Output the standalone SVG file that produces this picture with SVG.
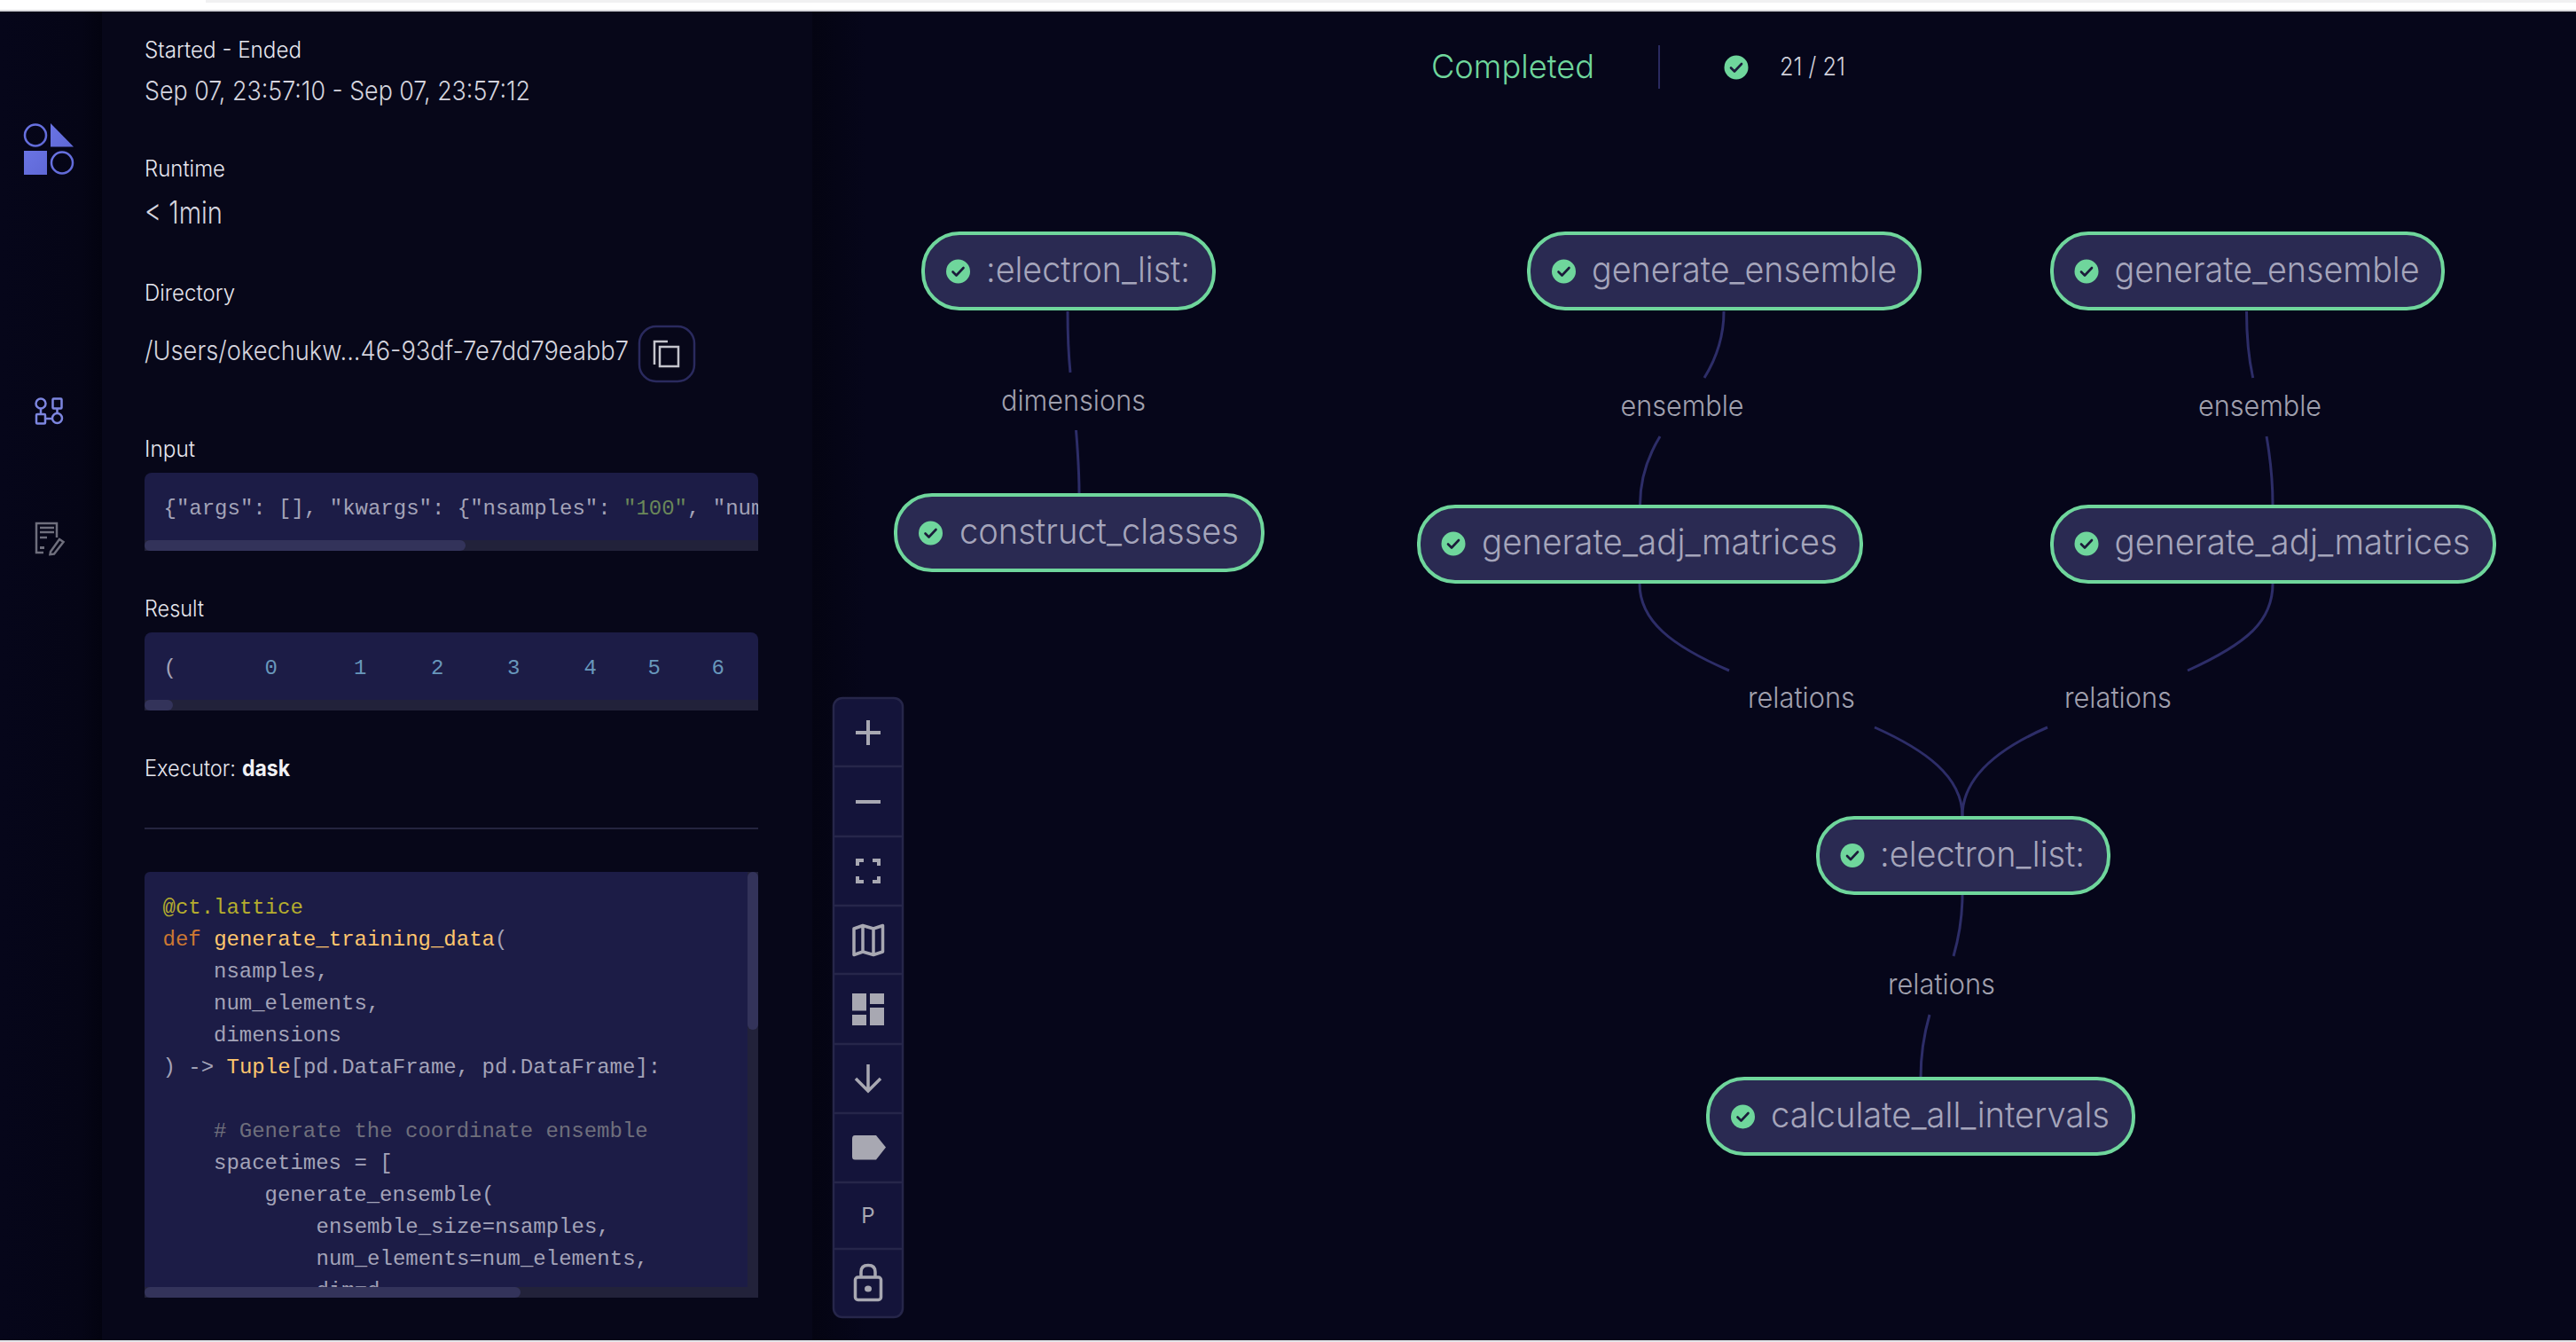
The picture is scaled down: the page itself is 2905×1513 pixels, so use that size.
<svg xmlns="http://www.w3.org/2000/svg" width="2905" height="1513" viewBox="0 0 2905 1513">
<defs>
<style>
.ui{font-family:"Inter","Liberation Sans",sans-serif}
.lbl{font-size:25px;fill:#e6e6ee;font-weight:300}
.val{font-size:30px;fill:#d4d4de;font-weight:300}
.mono{font-family:"Liberation Mono",monospace;font-size:24px;fill:#a3a3b8}
.node{fill:#2a2a52;stroke:#6fd69c;stroke-width:4}
.ntxt{font-size:40px;fill:#a5a5bb;font-weight:300}
.elbl{font-size:33px;fill:#a0a0ae;font-weight:300}
.edge{fill:none;stroke:#2d2d68;stroke-width:3}
.tool{fill:#a8a8b2}
.tools{fill:none;stroke:#a8a8b2}
.sep{stroke:#26264a;stroke-width:2.5}
</style>
<g id="chk"><circle r="13.5" fill="#6fd69c"/><path d="M-6 0.5L-2 4.5L6 -4" fill="none" stroke="#1b1b3a" stroke-width="2.6" stroke-linecap="round" stroke-linejoin="round"/></g>
<clipPath id="cInput"><rect x="163" y="533" width="692" height="76"/></clipPath>
<clipPath id="cCode"><rect x="163" y="983" width="680" height="468"/></clipPath>
<linearGradient id="shade" x1="0" x2="1"><stop offset="0" stop-color="#06061a"/><stop offset="0.8" stop-color="#050516"/><stop offset="1" stop-color="#030310"/></linearGradient>
<linearGradient id="shade2" x1="0" x2="1"><stop offset="0" stop-color="#040412"/><stop offset="1" stop-color="#06061a"/></linearGradient>
<linearGradient id="logoG" x1="0" x2="1" y1="0" y2="1"><stop offset="0" stop-color="#6a74e4"/><stop offset="1" stop-color="#5f68d6"/></linearGradient>
</defs>
<rect width="2905" height="1513" fill="#06061a"/>
<rect x="0" y="12" width="115" height="1499" fill="url(#shade)"/>
<rect x="115" y="12" width="801" height="1499" fill="#070719"/>
<rect x="916" y="12" width="60" height="1499" fill="url(#shade2)"/>
<rect x="0" y="0" width="2905" height="11" fill="#ffffff"/>
<rect x="232" y="0" width="2673" height="3" fill="#f1f1f2"/>
<rect x="0" y="11" width="2905" height="2" fill="#d8d8dc"/>
<rect x="0" y="1511" width="2905" height="2" fill="#e4e4e8"/>

<g id="sidebar">
<circle cx="40" cy="152.500" r="12" fill="none" stroke="url(#logoG)" stroke-width="2.500"/>
<path d="M57 139L83 165.500H57Z" fill="url(#logoG)"/>
<rect x="27" y="170" width="26" height="27" fill="url(#logoG)"/>
<circle cx="70" cy="183.500" r="12" fill="none" stroke="url(#logoG)" stroke-width="2.500"/>
<g fill="none" stroke="#7d86e0" stroke-width="2.500">
<circle cx="46" cy="455" r="5.500"/><rect x="59.500" y="449.500" width="10" height="11" rx="1"/>
<rect x="41" y="467" width="10" height="10.500" rx="1"/><circle cx="64.500" cy="471.500" r="5.500"/>
<path d="M46 460.500V467M64.500 460.500V466M51 472H59"/>
</g>
<g fill="none" stroke="#6e6e7c" stroke-width="2.500">
<path d="M64 606V590H41V623H49"/><path d="M45 595H61M45 600H61M45 606H53"/>
<path d="M57 622L67 608L71.500 611L61 624.500L56.500 625Z"/>
</g>
<rect x="45" y="616" width="5" height="3" fill="#6e6e7c"/>
</g>

<g id="details">
<text class="ui lbl" x="163" y="65" textLength="177" lengthAdjust="spacingAndGlyphs">Started - Ended</text>
<text class="ui val" x="163" y="113" textLength="435" lengthAdjust="spacingAndGlyphs">Sep 07, 23:57:10 - Sep 07, 23:57:12</text>
<text class="ui lbl" x="163" y="199" textLength="91" lengthAdjust="spacingAndGlyphs">Runtime</text>
<text class="ui val" x="163" y="252" style="font-size:35px" textLength="88" lengthAdjust="spacingAndGlyphs">&lt; 1min</text>
<text class="ui lbl" x="163" y="339" textLength="102" lengthAdjust="spacingAndGlyphs">Directory</text>
<text class="ui val" x="163" y="406" textLength="546" lengthAdjust="spacingAndGlyphs">/Users/okechukw...46-93df-7e7dd79eabb7</text>
<g id="copy-button">
<rect x="721" y="368" width="62" height="62" rx="19" fill="none" stroke="#2a2a5e" stroke-width="2.500"/>
<path d="M743 412V386H758" fill="none" stroke="#c4c4cc" stroke-width="2.500" transform="translate(-5 -1)"/>
<rect x="744" y="391" width="21" height="22" fill="none" stroke="#c4c4cc" stroke-width="2.500"/>
</g>
<text class="ui lbl" x="163" y="515" textLength="57" lengthAdjust="spacingAndGlyphs">Input</text>
<rect x="163" y="533" width="692" height="88" rx="8" fill="#1c1c46"/>
<g clip-path="url(#cInput)"><text class="mono" x="184.500" y="579.500" xml:space="preserve">{"args": [], "kwargs": {"nsamples": <tspan style="fill:#6a8759">"100"</tspan>, "num</text></g>
<rect x="163" y="609" width="692" height="12" fill="#22223a"/>
<rect x="163" y="609" width="362" height="12" rx="6" fill="#33335a"/>
<text class="ui lbl" x="163" y="695" textLength="67" lengthAdjust="spacingAndGlyphs">Result</text>
<rect x="163" y="713" width="692" height="88" rx="8" fill="#1c1c46"/>
<text class="mono" y="759.500">
<tspan x="184.500">(</tspan>
<tspan x="298.500" style="fill:#6897bb">0</tspan><tspan x="399" style="fill:#6897bb">1</tspan><tspan x="486" style="fill:#6897bb">2</tspan><tspan x="572" style="fill:#6897bb">3</tspan><tspan x="658.500" style="fill:#6897bb">4</tspan><tspan x="730.500" style="fill:#6897bb">5</tspan><tspan x="802.500" style="fill:#6897bb">6</tspan>
</text>
<rect x="163" y="789" width="692" height="12" fill="#22223a"/>
<rect x="163" y="789" width="32" height="12" rx="6" fill="#33335a"/>
<text class="ui lbl" x="163" y="875" textLength="103" lengthAdjust="spacingAndGlyphs">Executor:</text>
<text class="ui lbl" x="273" y="875" font-weight="700" style="font-weight:700;fill:#f0f0f4" textLength="54" lengthAdjust="spacingAndGlyphs">dask</text>
<rect x="163" y="933" width="692" height="2" fill="#24243f"/>
<rect x="163" y="983" width="692" height="480" rx="6" fill="#1c1c46"/>
<g clip-path="url(#cCode)">
<text class="mono" x="183.500" y="1029.500" style="fill:#b5ad2e">@ct.lattice</text>
<text class="mono" x="183.500" y="1065.500" xml:space="preserve"><tspan style="fill:#cc7832">def</tspan> <tspan style="fill:#ffc66d">generate_training_data</tspan>(</text>
<text class="mono" x="241" y="1101.500">nsamples,</text>
<text class="mono" x="241" y="1137.500">num_elements,</text>
<text class="mono" x="241" y="1173.500">dimensions</text>
<text class="mono" x="183.500" y="1209.500" xml:space="preserve">) -&gt; <tspan style="fill:#ffc66d">Tuple</tspan>[pd.DataFrame, pd.DataFrame]:</text>
<text class="mono" x="241" y="1281.500" style="fill:#6f6f7c"># Generate the coordinate ensemble</text>
<text class="mono" x="241" y="1317.500">spacetimes = [</text>
<text class="mono" x="298.500" y="1353.500">generate_ensemble(</text>
<text class="mono" x="356.500" y="1389.500">ensemble_size=nsamples,</text>
<text class="mono" x="356.500" y="1425.500">num_elements=num_elements,</text>
<text class="mono" x="356.500" y="1461.500">dim=d</text>
</g>
<rect x="843" y="983" width="12" height="480" fill="#22223a"/>
<rect x="843" y="983" width="12" height="178" rx="6" fill="#33335a"/>
<rect x="163" y="1451" width="692" height="12" fill="#22223a"/>
<rect x="163" y="1451" width="424" height="12" rx="6" fill="#33335a"/>
</g>

<g id="toolbar">
<rect x="940" y="787" width="78" height="698" rx="10" fill="#14143a" stroke="#26264a" stroke-width="2.500"/>
<path class="sep" d="M940 864H1018M940 943H1018M940 1021H1018M940 1098H1018M940 1177H1018M940 1255H1018M940 1333H1018M940 1408H1018"/>
<path class="tools" stroke-width="4" d="M965 826H993M979 812V840"/>
<path class="tools" stroke-width="4" d="M965 904H993"/>
<path class="tools" stroke-width="4" d="M974 970H967V976M984 970H991V976M974 994H967V988M984 994H991V988"/>
<path class="tools" stroke-width="3.500" stroke-linejoin="round" d="M963 1047L973 1043.500L985 1047L995.500 1043.500V1073L985 1076.500L973 1073L963 1076.500ZM973 1043.500V1073M985 1047V1076.500"/>
<path class="tool" d="M961 1120H977V1139.500H961ZM961 1144H977V1156H961ZM981 1120H997V1132H981ZM981 1136H997V1156H981Z"/>
<path class="tools" stroke-width="3.500" d="M979 1200V1229M965 1216L979 1230L993 1216"/>
<path class="tool" d="M964 1280H988L999 1293.500L988 1307.500H964Q961 1307.500 961 1304V1284Q961 1280 964 1280Z"/>
<text class="ui" x="979" y="1379" text-anchor="middle" style="font-size:24px;fill:#a8a8b2">P</text>
<rect x="964.500" y="1440" width="29" height="25.500" rx="3" class="tools" stroke-width="3.500"/>
<path class="tools" stroke-width="3.500" d="M971 1440V1434Q971 1426.500 979 1426.500Q987 1426.500 987 1434V1440"/>
<ellipse cx="979" cy="1453" rx="4" ry="3.500" class="tool"/>
</g>

<g id="status">
<text class="ui" x="1614" y="88" style="font-size:37px;fill:#6fd69c;font-weight:300" textLength="184" lengthAdjust="spacingAndGlyphs">Completed</text>
<rect x="1870" y="51" width="2" height="49" fill="#2a2a60"/>
<use href="#chk" x="1958" y="76"/>
<text class="ui" x="2007" y="85" style="font-size:29px;fill:#d0d0da;font-weight:300" textLength="74" lengthAdjust="spacingAndGlyphs">21 / 21</text>
</g>

<g id="connectors">
<path class="edge" d="M1204 351C1204 380 1205 400 1207 420"/>
<path class="edge" d="M1213.500 485C1215.500 510 1217 530 1217 556"/>
<path class="edge" d="M1944 351C1944 380 1935 405 1922 426"/>
<path class="edge" d="M1872 492C1858 515 1849.500 540 1849.500 569"/>
<path class="edge" d="M2533.500 351C2533.500 380 2536 405 2540.700 426"/>
<path class="edge" d="M2556 492C2560 515 2563 540 2563 569"/>
<path class="edge" d="M1849 658C1849 700 1885 728 1950 756"/>
<path class="edge" d="M2114 820C2170 845 2213 875 2213 920"/>
<path class="edge" d="M2563 658C2563 700 2535 725 2467 756"/>
<path class="edge" d="M2309 820C2256 843 2213 875 2213 920"/>
<path class="edge" d="M2213 1009C2213 1035 2209 1057 2203 1078"/>
<path class="edge" d="M2176 1144C2170 1165 2166 1190 2166 1215"/>
</g>

<g id="edge-labels">
<text class="ui elbl" x="1129" y="462.500" textLength="163" lengthAdjust="spacingAndGlyphs">dimensions</text>
<text class="ui elbl" x="1827.500" y="468.500" textLength="139" lengthAdjust="spacingAndGlyphs">ensemble</text>
<text class="ui elbl" x="2479" y="468.500" textLength="139" lengthAdjust="spacingAndGlyphs">ensemble</text>
<text class="ui elbl" x="1971" y="797.500" textLength="121" lengthAdjust="spacingAndGlyphs">relations</text>
<text class="ui elbl" x="2328" y="797.500" textLength="121" lengthAdjust="spacingAndGlyphs">relations</text>
<text class="ui elbl" x="2129" y="1120.500" textLength="121" lengthAdjust="spacingAndGlyphs">relations</text>
</g>

<g id="node-electron-list-1">
<rect class="node" x="1041" y="263" width="328" height="85" rx="41"/>
<use href="#chk" x="1080.500" y="306"/>
<text class="ui ntxt" x="1112" y="318" textLength="230" lengthAdjust="spacingAndGlyphs">:electron_list:</text>
</g>
<g id="node-construct-classes">
<rect class="node" x="1010" y="558" width="414" height="85" rx="41"/>
<use href="#chk" x="1049.500" y="601"/>
<text class="ui ntxt" x="1082" y="613" textLength="315" lengthAdjust="spacingAndGlyphs">construct_classes</text>
</g>
<g id="node-generate-ensemble-1">
<rect class="node" x="1724" y="263" width="441" height="85" rx="41"/>
<use href="#chk" x="1763.500" y="306"/>
<text class="ui ntxt" x="1795" y="318" textLength="344" lengthAdjust="spacingAndGlyphs">generate_ensemble</text>
</g>
<g id="node-generate-ensemble-2">
<rect class="node" x="2314" y="263" width="441" height="85" rx="41"/>
<use href="#chk" x="2353" y="306"/>
<text class="ui ntxt" x="2384.500" y="318" textLength="344" lengthAdjust="spacingAndGlyphs">generate_ensemble</text>
</g>
<g id="node-generate-adj-matrices-1">
<rect class="node" x="1600" y="571" width="499" height="85" rx="41"/>
<use href="#chk" x="1639" y="613"/>
<text class="ui ntxt" x="1671" y="625" textLength="401" lengthAdjust="spacingAndGlyphs">generate_adj_matrices</text>
</g>
<g id="node-generate-adj-matrices-2">
<rect class="node" x="2314" y="571" width="499" height="85" rx="41"/>
<use href="#chk" x="2353" y="613"/>
<text class="ui ntxt" x="2384.500" y="625" textLength="401" lengthAdjust="spacingAndGlyphs">generate_adj_matrices</text>
</g>
<g id="node-electron-list-2">
<rect class="node" x="2050" y="922" width="328" height="85" rx="41"/>
<use href="#chk" x="2089" y="964.500"/>
<text class="ui ntxt" x="2120" y="977" textLength="231" lengthAdjust="spacingAndGlyphs">:electron_list:</text>
</g>
<g id="node-calculate-all-intervals">
<rect class="node" x="1926" y="1216" width="480" height="85" rx="41"/>
<use href="#chk" x="1965.500" y="1259"/>
<text class="ui ntxt" x="1997" y="1271" textLength="382" lengthAdjust="spacingAndGlyphs">calculate_all_intervals</text>
</g>
</svg>
